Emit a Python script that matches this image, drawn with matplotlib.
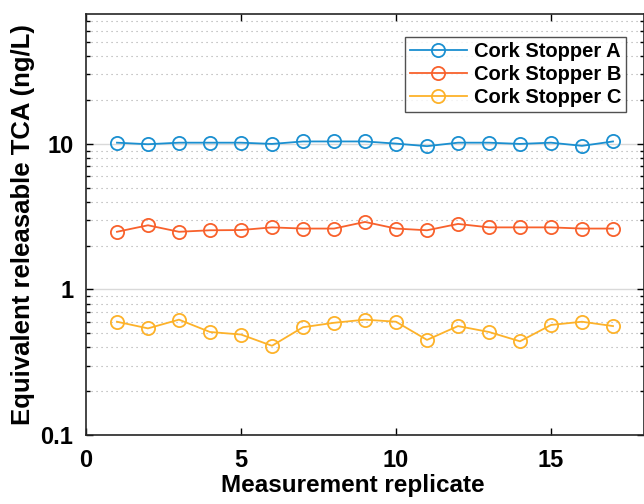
import matplotlib
matplotlib.use("Agg")
import matplotlib.pyplot as plt
from matplotlib.ticker import LogLocator, NullFormatter, FixedLocator

plt.rcParams['font.family'] = ['Liberation Sans', 'DejaVu Sans']
plt.rcParams['font.weight'] = 'bold'

replicates = list(range(1, 18))

stopper_a = [10.2, 9.95, 10.2, 10.2, 10.2, 10.0, 10.4, 10.4, 10.4, 10.05,
             9.65, 10.2, 10.2, 10.0, 10.2, 9.7, 10.4]
stopper_b = [2.49, 2.76, 2.49, 2.55, 2.56, 2.67, 2.62, 2.62, 2.91, 2.62,
             2.55, 2.82, 2.67, 2.67, 2.67, 2.62, 2.62]
stopper_c = [0.60, 0.54, 0.62, 0.51, 0.49, 0.41, 0.55, 0.59, 0.62, 0.60,
             0.45, 0.56, 0.51, 0.44, 0.57, 0.60, 0.56]

labels = ["Cork Stopper A", "Cork Stopper B", "Cork Stopper C"]
colors = ["#1a8fd0", "#f8612c", "#fdb22a"]

fig = plt.figure(figsize=(6.44, 5.04), dpi=100)
ax = fig.add_axes([0.1335, 0.137, 0.8665, 0.835])

for vals, lab, col in zip([stopper_a, stopper_b, stopper_c], labels, colors):
    ax.plot(replicates, vals, color=col, lw=1.3, marker="o", ms=9.5,
            mfc="none", mew=1.3, label=lab)

ax.set_yscale("log")
ax.set_xlim(0, 18)
ax.set_ylim(0.1, 78)

ax.xaxis.set_major_locator(FixedLocator([0, 5, 10, 15]))
ax.yaxis.set_major_locator(FixedLocator([0.1, 1, 10]))
ax.set_yticklabels(["0.1", "1", "10"])
ax.yaxis.set_minor_locator(LogLocator(base=10, subs=range(2, 10)))
ax.yaxis.set_minor_formatter(NullFormatter())

ax.grid(True, which="major", axis="y", color="#d9d9d9", lw=1.0)
ax.grid(True, which="minor", axis="y", color="#a8a8a8", lw=0.8,
        linestyle=(0, (1, 3.5)))
ax.set_axisbelow(True)

ax.tick_params(which="both", direction="in", top=True, right=True,
               labelsize=17, width=1.0)
ax.tick_params(axis="x", pad=10)
ax.tick_params(axis="y", pad=9)
ax.tick_params(which="major", length=5)
ax.tick_params(which="minor", length=3)
for s in ax.spines.values():
    s.set_linewidth(1.2)
    s.set_color("#262626")

ax.set_xlabel("Measurement replicate", fontsize=17.5, fontweight="bold")
ax.xaxis.set_label_coords(0.478, -0.093, transform=ax.transAxes)
ax.xaxis.label.set_va("top")
ax.set_ylabel("Equivalent releasable TCA (ng/L)", fontsize=18.5,
              fontweight="bold")
ax.yaxis.set_label_coords(-0.092, 0.5, transform=ax.transAxes)

leg = ax.legend(loc="upper right", bbox_to_anchor=(0.968, 0.945),
                fontsize=14.5, frameon=True, fancybox=False,
                borderaxespad=0.0, handlelength=2.8, labelspacing=0.2,
                borderpad=0.25, handletextpad=0.35)
leg.get_frame().set_edgecolor("#262626")
leg.get_frame().set_linewidth(1.0)
for t in leg.get_texts():
    t.set_fontweight("bold")

fig.savefig("out.png", dpi=100)
